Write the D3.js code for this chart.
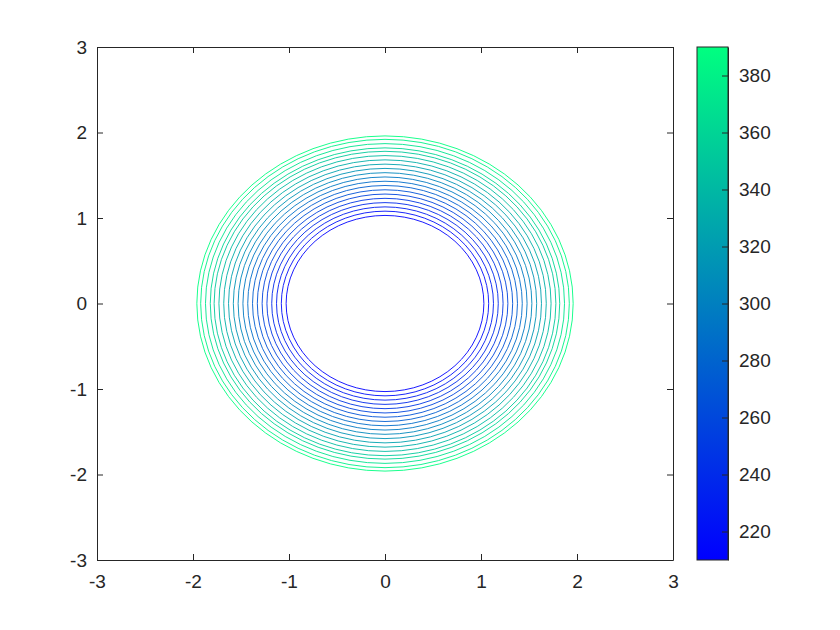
<!DOCTYPE html>
<html>
<head>
<meta charset="utf-8">
<script src="https://cdn.jsdelivr.net/npm/d3@7"></script>
<style>
  body { margin: 0; background: #fff; }
  svg text { font-family: "Liberation Sans", Arial, sans-serif; font-size: 19px; fill: #262626; }
</style>
</head>
<body>
<script>
// contour levels (inner -> outer) and the radius each one sits at
var levels = [210, 219, 229, 238, 248, 257, 267, 276, 286, 295, 305, 314, 324, 333, 343, 352, 362, 371, 381, 390];
var radii = [1.03, 1.08, 1.13, 1.18, 1.23, 1.28, 1.33, 1.38, 1.43, 1.48, 1.53, 1.58, 1.63, 1.68, 1.73, 1.78, 1.82, 1.87, 1.92, 1.96];
var axisTicks = [-3, -2, -1, 0, 1, 2, 3];
var cbarTicks = [220, 240, 260, 280, 300, 320, 340, 360, 380];
var cRange = [210, 390];

var w = 840, h = 630;
var plotLeft = 97, plotRight = 673, plotTop = 47, plotBottom = 560;
var cbLeft = 697, cbRight = 728;
var axisColor = "#262626";
var tickLen = 6;
var fmt = function (d) { return String(d); };

var winter = d3.scaleLinear().domain(cRange)
    .range(["rgb(0,0,255)", "rgb(0,255,128)"]);

var xScale = d3.scaleLinear().domain([-3, 3]).range([plotLeft, plotRight]);
var yScale = d3.scaleLinear().domain([-3, 3]).range([plotBottom, plotTop]);
var cScale = d3.scaleLinear().domain(cRange).range([plotBottom, plotTop]);

var svg = d3.select("body").append("svg")
    .attr("width", w)
    .attr("height", h);

// contour lines
var contours = levels.map(function (lv, i) { return { level: lv, r: radii[i] }; });
svg.append("g").selectAll("ellipse")
    .data(contours)
    .enter()
    .append("ellipse")
    .attr("cx", xScale(0))
    .attr("cy", yScale(0))
    .attr("rx", function (d) { return xScale(d.r) - xScale(0); })
    .attr("ry", function (d) { return yScale(0) - yScale(d.r); })
    .attr("fill", "none")
    .attr("stroke", function (d) { return winter(d.level); })
    .attr("stroke-width", 0.9);

// axes box with mirrored inward ticks
svg.append("g").attr("transform", "translate(0," + plotBottom + ")")
    .call(d3.axisBottom(xScale).tickValues(axisTicks).tickSizeInner(-tickLen).tickSizeOuter(0).tickPadding(15).tickFormat(fmt));
svg.append("g").attr("transform", "translate(0," + plotTop + ")")
    .call(d3.axisTop(xScale).tickValues(axisTicks).tickSizeInner(-tickLen).tickSizeOuter(0).tickFormat(""));
svg.append("g").attr("transform", "translate(" + plotLeft + ",0)")
    .call(d3.axisLeft(yScale).tickValues(axisTicks).tickSizeInner(-tickLen).tickSizeOuter(0).tickPadding(10).tickFormat(fmt));
svg.append("g").attr("transform", "translate(" + plotRight + ",0)")
    .call(d3.axisRight(yScale).tickValues(axisTicks).tickSizeInner(-tickLen).tickSizeOuter(0).tickFormat(""));

// colorbar
var defs = svg.append("defs");
var grad = defs.append("linearGradient").attr("id", "winter")
    .attr("x1", 0).attr("y1", 1).attr("x2", 0).attr("y2", 0);
grad.selectAll("stop")
    .data(cRange)
    .enter()
    .append("stop")
    .attr("offset", function (d, i) { return i; })
    .attr("stop-color", function (d) { return winter(d); });

svg.append("rect")
    .attr("x", cbLeft)
    .attr("y", plotTop)
    .attr("width", cbRight - cbLeft)
    .attr("height", plotBottom - plotTop)
    .attr("fill", "url(#winter)")
    .attr("stroke", axisColor)
    .attr("stroke-width", 1);

svg.append("g").attr("transform", "translate(" + cbRight + ",0)")
    .call(d3.axisRight(cScale).tickValues(cbarTicks).tickSizeInner(-tickLen).tickSizeOuter(0).tickPadding(11).tickFormat(fmt));

svg.selectAll(".domain, .tick line")
    .attr("stroke", axisColor);
svg.selectAll(".tick text")
    .attr("fill", axisColor)
    .style("font-size", "19px");
</script>
</body>
</html>
